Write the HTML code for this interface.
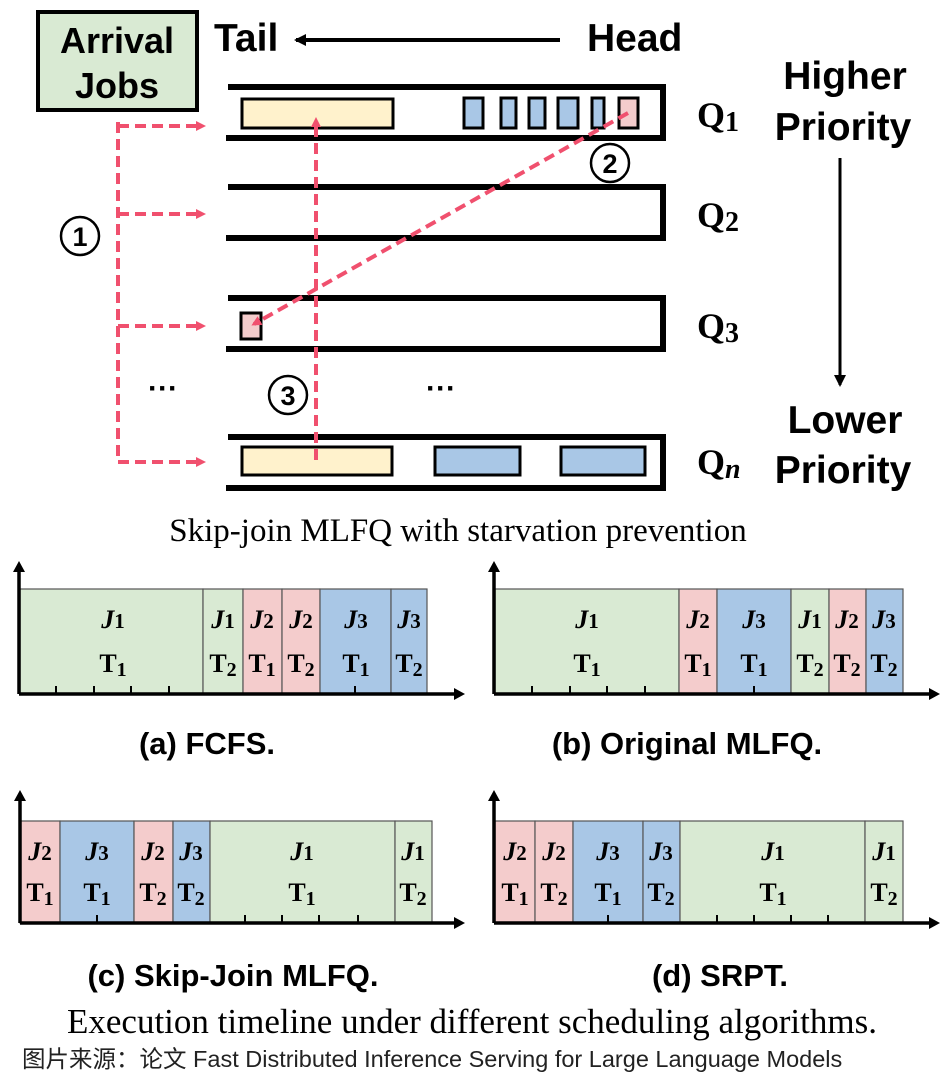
<!DOCTYPE html>
<html><head><meta charset="utf-8"><style>
body{margin:0;background:#fff}
svg text{font-family:"Liberation Sans","Noto Sans CJK SC",sans-serif}
.serif{font-family:"Liberation Serif",serif}
</style></head><body>
<svg width="945" height="1076" viewBox="0 0 945 1076" xmlns="http://www.w3.org/2000/svg">
<defs>
<marker id="ra" markerWidth="10" markerHeight="10" refX="7" refY="5" orient="auto" markerUnits="userSpaceOnUse"><path d="M0,0 L10,5 L0,10 z" fill="#f0506e"/></marker>
<marker id="ka" markerWidth="14" markerHeight="14" refX="10" refY="7" orient="auto" markerUnits="userSpaceOnUse"><path d="M0,1 L12,7 L0,13 z" fill="#000"/></marker>
</defs>
<rect x="38" y="12" width="159" height="98" fill="#d9ead3" stroke="#000" stroke-width="4"/>
<text x="117" y="53" font-size="36" font-weight="bold" text-anchor="middle">Arrival</text>
<text x="117" y="98" font-size="36" font-weight="bold" text-anchor="middle">Jobs</text>
<text x="214" y="51" font-size="39" font-weight="bold">Tail</text>
<line x1="560" y1="40" x2="296" y2="40" stroke="#000" stroke-width="4" marker-end="url(#ka)"/>
<text x="587" y="51" font-size="39" font-weight="bold">Head</text>
<g stroke="#000" stroke-width="6" fill="none">
<path d="M228,87 H663 V138 H226"/>
<path d="M228,187 H663 V238 H226"/>
<path d="M228,298 H663 V349 H226"/>
<path d="M228,437 H663 V488 H226"/>
</g>
<g stroke="#000" stroke-width="3">
<rect x="242" y="99" width="151" height="29" fill="#fff2cc"/>
<rect x="464" y="98" width="19" height="30" fill="#a9c7e6"/>
<rect x="501" y="98" width="15" height="30" fill="#a9c7e6"/>
<rect x="529" y="98" width="16" height="30" fill="#a9c7e6"/>
<rect x="558" y="98" width="20" height="30" fill="#a9c7e6"/>
<rect x="592" y="98" width="12" height="30" fill="#a9c7e6"/>
<rect x="619" y="98" width="19" height="30" fill="#f4cccc"/>
<rect x="241" y="313" width="20" height="26" fill="#f4cccc"/>
<rect x="242" y="447" width="150" height="28" fill="#fff2cc"/>
<rect x="435" y="447" width="85" height="28" fill="#a9c7e6"/>
<rect x="561" y="447" width="84" height="28" fill="#a9c7e6"/>
</g>
<g stroke="#f0506e" stroke-width="4" stroke-dasharray="11,6" fill="none">
<path d="M118,122 V462"/>
<line x1="118" y1="126" x2="203" y2="126" marker-end="url(#ra)"/>
<line x1="118" y1="214" x2="203" y2="214" marker-end="url(#ra)"/>
<line x1="118" y1="326" x2="203" y2="326" marker-end="url(#ra)"/>
<line x1="118" y1="462" x2="203" y2="462" marker-end="url(#ra)"/>
<line x1="316" y1="460" x2="316" y2="120" marker-end="url(#ra)"/>
<line x1="628" y1="113" x2="254" y2="324" marker-end="url(#ra)"/>
</g>
<g stroke="#000" stroke-width="2.5" fill="#fff">
<circle cx="80" cy="236" r="19"/><circle cx="610" cy="163" r="19"/><circle cx="288" cy="395" r="19"/>
</g>
<g font-size="27" font-weight="bold" text-anchor="middle">
<text x="80" y="246">1</text><text x="610" y="173">2</text><text x="288" y="405">3</text>
</g>
<text x="163" y="398" font-size="30" font-weight="bold" text-anchor="middle">···</text>
<text x="441" y="398" font-size="30" font-weight="bold" text-anchor="middle">···</text>
<g font-size="36" font-weight="bold">
<text x="697" y="127" class="serif">Q<tspan font-size="28" dy="4">1</tspan></text>
<text x="697" y="227" class="serif">Q<tspan font-size="28" dy="4">2</tspan></text>
<text x="697" y="338" class="serif">Q<tspan font-size="28" dy="4">3</tspan></text>
<text x="697" y="474" class="serif">Q<tspan font-size="28" dy="4" font-style="italic">n</tspan></text>
</g>
<g font-size="39" font-weight="bold" text-anchor="middle">
<text x="845" y="89">Higher</text><text x="843" y="140">Priority</text>
<text x="845" y="433">Lower</text><text x="843" y="483">Priority</text>
</g>
<line x1="840" y1="158" x2="840" y2="385" stroke="#000" stroke-width="3" marker-end="url(#ka)"/>
<text x="458" y="541" class="serif" font-size="33" text-anchor="middle">Skip-join MLFQ with starvation prevention</text>

<g stroke="#555" stroke-width="1.2">
<rect x="20" y="589" width="183" height="105" fill="#d9ead3"/>
<rect x="203" y="589" width="40" height="105" fill="#d9ead3"/>
<rect x="243" y="589" width="39" height="105" fill="#f4cccc"/>
<rect x="282" y="589" width="38" height="105" fill="#f4cccc"/>
<rect x="320" y="589" width="71" height="105" fill="#a9c7e6"/>
<rect x="391" y="589" width="36" height="105" fill="#a9c7e6"/>
<rect x="495" y="589" width="184" height="105" fill="#d9ead3"/>
<rect x="679" y="589" width="38" height="105" fill="#f4cccc"/>
<rect x="717" y="589" width="74" height="105" fill="#a9c7e6"/>
<rect x="791" y="589" width="38" height="105" fill="#d9ead3"/>
<rect x="829" y="589" width="37" height="105" fill="#f4cccc"/>
<rect x="866" y="589" width="37" height="105" fill="#a9c7e6"/>
<rect x="20" y="821" width="40" height="102" fill="#f4cccc"/>
<rect x="60" y="821" width="74" height="102" fill="#a9c7e6"/>
<rect x="134" y="821" width="39" height="102" fill="#f4cccc"/>
<rect x="173" y="821" width="37" height="102" fill="#a9c7e6"/>
<rect x="210" y="821" width="185" height="102" fill="#d9ead3"/>
<rect x="395" y="821" width="37" height="102" fill="#d9ead3"/>
<rect x="495" y="821" width="40" height="102" fill="#f4cccc"/>
<rect x="535" y="821" width="38" height="102" fill="#f4cccc"/>
<rect x="573" y="821" width="70" height="102" fill="#a9c7e6"/>
<rect x="643" y="821" width="37" height="102" fill="#a9c7e6"/>
<rect x="680" y="821" width="185" height="102" fill="#d9ead3"/>
<rect x="865" y="821" width="38" height="102" fill="#d9ead3"/>
</g>
<g stroke="#000" stroke-width="2">
<path d="M56,694v-8M94,694v-8M131,694v-8M169,694v-8M355,694v-8"/>
<path d="M532,694v-8M570,694v-8M607,694v-8M645,694v-8M754,694v-8"/>
<path d="M97,923v-8M245,923v-8M282,923v-8M319,923v-8M358,923v-8"/>
<path d="M608,923v-8M717,923v-8M754,923v-8M791,923v-8M828,923v-8"/>
</g>
<g stroke="#000" stroke-width="3.5" fill="none">
<path d="M19,694 V568 M19,694 H458"/>
<path d="M494,694 V568 M494,694 H934"/>
<path d="M20,923 V797 M20,923 H458"/>
<path d="M494,923 V797 M494,923 H934"/>
</g>
<g fill="#000">
<path d="M13,572 L19,561 L25,572z M454,688 L465,694 L454,700z"/>
<path d="M488,572 L494,561 L500,572z M929,688 L940,694 L929,700z"/>
<path d="M14,801 L20,790 L26,801z M454,917 L465,923 L454,929z"/>
<path d="M488,801 L494,790 L500,801z M929,917 L940,923 L929,929z"/>
</g>
<g font-size="26" font-weight="bold" text-anchor="middle">
<text x="113" y="628" class="serif"><tspan font-style="italic">J</tspan><tspan font-size="21">1</tspan></text><text x="113" y="672" class="serif">T<tspan font-size="20" dy="4">1</tspan></text>
<text x="223" y="628" class="serif"><tspan font-style="italic">J</tspan><tspan font-size="21">1</tspan></text><text x="223" y="672" class="serif">T<tspan font-size="20" dy="4">2</tspan></text>
<text x="262" y="628" class="serif"><tspan font-style="italic">J</tspan><tspan font-size="21">2</tspan></text><text x="262" y="672" class="serif">T<tspan font-size="20" dy="4">1</tspan></text>
<text x="301" y="628" class="serif"><tspan font-style="italic">J</tspan><tspan font-size="21">2</tspan></text><text x="301" y="672" class="serif">T<tspan font-size="20" dy="4">2</tspan></text>
<text x="356" y="628" class="serif"><tspan font-style="italic">J</tspan><tspan font-size="21">3</tspan></text><text x="356" y="672" class="serif">T<tspan font-size="20" dy="4">1</tspan></text>
<text x="409" y="628" class="serif"><tspan font-style="italic">J</tspan><tspan font-size="21">3</tspan></text><text x="409" y="672" class="serif">T<tspan font-size="20" dy="4">2</tspan></text>
<text x="587" y="628" class="serif"><tspan font-style="italic">J</tspan><tspan font-size="21">1</tspan></text><text x="587" y="672" class="serif">T<tspan font-size="20" dy="4">1</tspan></text>
<text x="698" y="628" class="serif"><tspan font-style="italic">J</tspan><tspan font-size="21">2</tspan></text><text x="698" y="672" class="serif">T<tspan font-size="20" dy="4">1</tspan></text>
<text x="754" y="628" class="serif"><tspan font-style="italic">J</tspan><tspan font-size="21">3</tspan></text><text x="754" y="672" class="serif">T<tspan font-size="20" dy="4">1</tspan></text>
<text x="810" y="628" class="serif"><tspan font-style="italic">J</tspan><tspan font-size="21">1</tspan></text><text x="810" y="672" class="serif">T<tspan font-size="20" dy="4">2</tspan></text>
<text x="847" y="628" class="serif"><tspan font-style="italic">J</tspan><tspan font-size="21">2</tspan></text><text x="847" y="672" class="serif">T<tspan font-size="20" dy="4">2</tspan></text>
<text x="884" y="628" class="serif"><tspan font-style="italic">J</tspan><tspan font-size="21">3</tspan></text><text x="884" y="672" class="serif">T<tspan font-size="20" dy="4">2</tspan></text>
<text x="40" y="860" class="serif"><tspan font-style="italic">J</tspan><tspan font-size="21">2</tspan></text><text x="40" y="901" class="serif">T<tspan font-size="20" dy="4">1</tspan></text>
<text x="97" y="860" class="serif"><tspan font-style="italic">J</tspan><tspan font-size="21">3</tspan></text><text x="97" y="901" class="serif">T<tspan font-size="20" dy="4">1</tspan></text>
<text x="153" y="860" class="serif"><tspan font-style="italic">J</tspan><tspan font-size="21">2</tspan></text><text x="153" y="901" class="serif">T<tspan font-size="20" dy="4">2</tspan></text>
<text x="191" y="860" class="serif"><tspan font-style="italic">J</tspan><tspan font-size="21">3</tspan></text><text x="191" y="901" class="serif">T<tspan font-size="20" dy="4">2</tspan></text>
<text x="302" y="860" class="serif"><tspan font-style="italic">J</tspan><tspan font-size="21">1</tspan></text><text x="302" y="901" class="serif">T<tspan font-size="20" dy="4">1</tspan></text>
<text x="413" y="860" class="serif"><tspan font-style="italic">J</tspan><tspan font-size="21">1</tspan></text><text x="413" y="901" class="serif">T<tspan font-size="20" dy="4">2</tspan></text>
<text x="515" y="860" class="serif"><tspan font-style="italic">J</tspan><tspan font-size="21">2</tspan></text><text x="515" y="901" class="serif">T<tspan font-size="20" dy="4">1</tspan></text>
<text x="554" y="860" class="serif"><tspan font-style="italic">J</tspan><tspan font-size="21">2</tspan></text><text x="554" y="901" class="serif">T<tspan font-size="20" dy="4">2</tspan></text>
<text x="608" y="860" class="serif"><tspan font-style="italic">J</tspan><tspan font-size="21">3</tspan></text><text x="608" y="901" class="serif">T<tspan font-size="20" dy="4">1</tspan></text>
<text x="661" y="860" class="serif"><tspan font-style="italic">J</tspan><tspan font-size="21">3</tspan></text><text x="661" y="901" class="serif">T<tspan font-size="20" dy="4">2</tspan></text>
<text x="773" y="860" class="serif"><tspan font-style="italic">J</tspan><tspan font-size="21">1</tspan></text><text x="773" y="901" class="serif">T<tspan font-size="20" dy="4">1</tspan></text>
<text x="884" y="860" class="serif"><tspan font-style="italic">J</tspan><tspan font-size="21">1</tspan></text><text x="884" y="901" class="serif">T<tspan font-size="20" dy="4">2</tspan></text>
</g>
<g font-size="31" font-weight="bold" text-anchor="middle">
<text x="207" y="754">(a) FCFS.</text>
<text x="687" y="754">(b) Original MLFQ.</text>
<text x="233" y="986">(c) Skip-Join MLFQ.</text>
<text x="720" y="986">(d) SRPT.</text>
</g>
<text x="472" y="1033" class="serif" font-size="35" text-anchor="middle">Execution timeline under different scheduling algorithms.</text>
<text x="22" y="1067" font-size="23.5" fill="#222">图片来源：论文 Fast Distributed Inference Serving for Large Language Models</text>
</svg>
</body></html>
